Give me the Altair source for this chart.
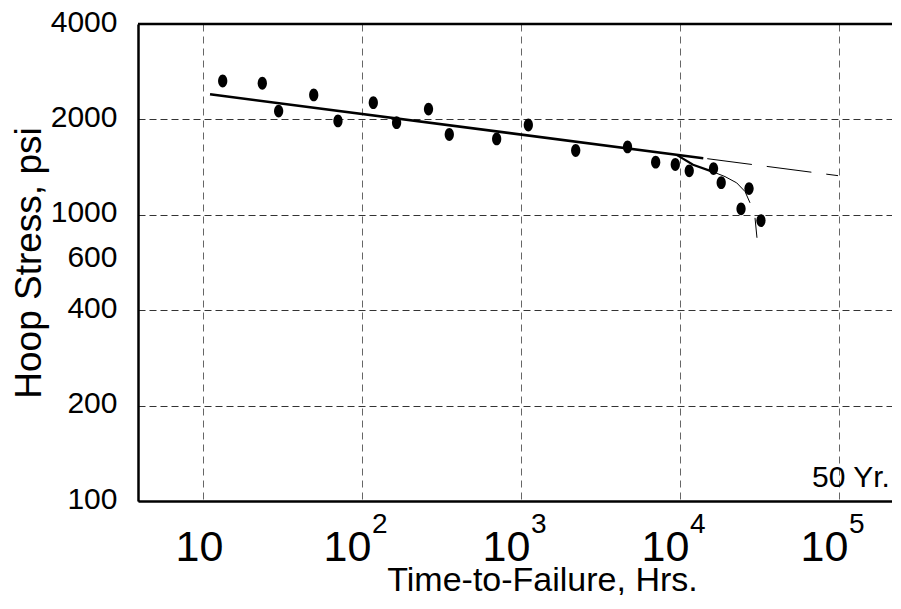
import altair as alt
import pandas as pd

# ---- data ----
fail_hours = [13.3, 23.6, 29.9, 49.7, 70.6, 117.8, 165, 262, 354, 703, 1112,
              2208, 4677, 7030, 9340, 11430, 16250, 18160, 24200, 27170, 32300]
hoop_psi = [2644, 2601, 2125, 2389, 1978, 2259, 1953, 2156, 1792, 1736, 1920,
            1595, 1638, 1466, 1441, 1376, 1399, 1263, 1044, 1210, 946]

fit_hours = [11.07, 14010]
fit_psi = [2401, 1509]
ext_hours = [14010, 98600]
ext_psi = [1509, 1329]
knee_thick_hours = [9530, 12080, 16150]
knee_thick_psi = [1546, 1438, 1366]
knee_thin_hours = [16150, 19190, 22740, 25650, 27560]
knee_thin_psi = [1366, 1320, 1261, 1184, 1091]
tail_hours = [29630, 30490]
tail_psi = [971, 802]

x_ticks = [10, 100, 1000, 10000, 100000]
x_exp_ticks = [100, 1000, 10000, 100000]
x_exponents = ["2", "3", "4", "5"]
y_ticks = [100, 200, 400, 600, 1000, 2000, 4000]
y_breaks = [100, 200, 400, 1000, 2000, 4000]
note_hours = [100000]
note_text = ["50 Yr."]

W, H = 762, 477

xscale = alt.Scale(type="log", domain=[3.901, 241900], nice=False)
yscale = alt.Scale(type="log", domain=y_breaks,
                   range=[H - i * H / 5 for i in range(6)], nice=False, zero=False)

xaxis = alt.Axis(
    values=x_ticks, labelExpr="'10'", title="Time-to-Failure, Hrs.",
    grid=True, gridColor="#666666", gridDash=[7, 5], gridWidth=1,
    ticks=False, tickSize=0, domainColor="black", domainWidth=2.5,
    labelFontSize=43, labelPadding=25, labelColor="black",
    labelOffset={"condition": {"test": "datum.value == 10", "value": -4}, "value": -15},
    titleFontSize=34, titleFontWeight="normal", titleColor="black",
    titleX=404, titleY=89, titleAlign="center", titleBaseline="alphabetic",
)
yaxis = alt.Axis(
    values=y_ticks, format="d", title="Hoop Stress, psi",
    grid=True, gridColor="#333333", gridDash=[7, 4], gridWidth=1,
    gridOpacity={"condition": {"test": "datum.value == 600", "value": 0}, "value": 1},
    ticks=False, tickSize=0, domainColor="black", domainWidth=2.5,
    labelFontSize=30, labelPadding=21, labelColor="black",
    labelOffset={"condition": {"test": "datum.value == 600", "value": -10}, "value": -2},
    titleFontSize=37, titleFontWeight="normal", titleColor="black", titlePadding=2,
)

X = alt.X("t:Q", scale=xscale, axis=xaxis)
Y = alt.Y("s:Q", scale=yscale, axis=yaxis)


def df(t, s):
    return pd.DataFrame({"t": t, "s": s})


ellipse = "M0,-1 A0.72,1 0 1,1 0,1 A0.72,1 0 1,1 0,-1 Z"

points = alt.Chart(df(fail_hours, hoop_psi)).mark_point(
    shape=ellipse, filled=True, size=165, color="black", opacity=1, strokeWidth=0
).encode(x=X, y=Y)

fit = alt.Chart(df(fit_hours, fit_psi)).mark_line(color="black", strokeWidth=2.6).encode(x=X, y=Y)
ext = alt.Chart(df(ext_hours, ext_psi)).mark_line(
    color="black", strokeWidth=1, strokeDash=[45, 15], strokeDashOffset=-4
).encode(x=X, y=Y)
knee1 = alt.Chart(df(knee_thick_hours, knee_thick_psi)).mark_line(color="black", strokeWidth=2.2).encode(x=X, y=Y)
knee2 = alt.Chart(df(knee_thin_hours, knee_thin_psi)).mark_line(color="black", strokeWidth=1).encode(x=X, y=Y)
tail = alt.Chart(df(tail_hours, tail_psi)).mark_line(color="black", strokeWidth=1).encode(x=X, y=Y)

exps = alt.Chart(pd.DataFrame({"t": x_exp_ticks, "e": x_exponents})).mark_text(
    align="left", baseline="top", dx=10, fontSize=28, color="black"
).encode(x=X, y=alt.value(487), text="e:N")

note = alt.Chart(pd.DataFrame({"t": note_hours, "e": note_text})).mark_text(
    align="left", baseline="alphabetic", dx=-27, fontSize=30, color="black"
).encode(x=X, y=alt.value(463), text="e:N")

top = alt.Chart(alt.Data(values=[{}])).mark_rule(color="black", strokeWidth=2.5).encode(
    x=alt.value(0), x2=alt.value(W), y=alt.value(0)
)

chart = alt.layer(fit, ext, knee1, knee2, tail, points, exps, note, top).properties(
    width=W, height=H,
    autosize=alt.AutoSizeParams(type="none"),
    padding={"left": 130, "top": 16, "right": -8, "bottom": 94},
    background="white",
).configure(font="Liberation Sans").configure_view(stroke="#888888", strokeWidth=1)

chart.save("out.html", embed_options={"renderer": "svg", "actions": False})
